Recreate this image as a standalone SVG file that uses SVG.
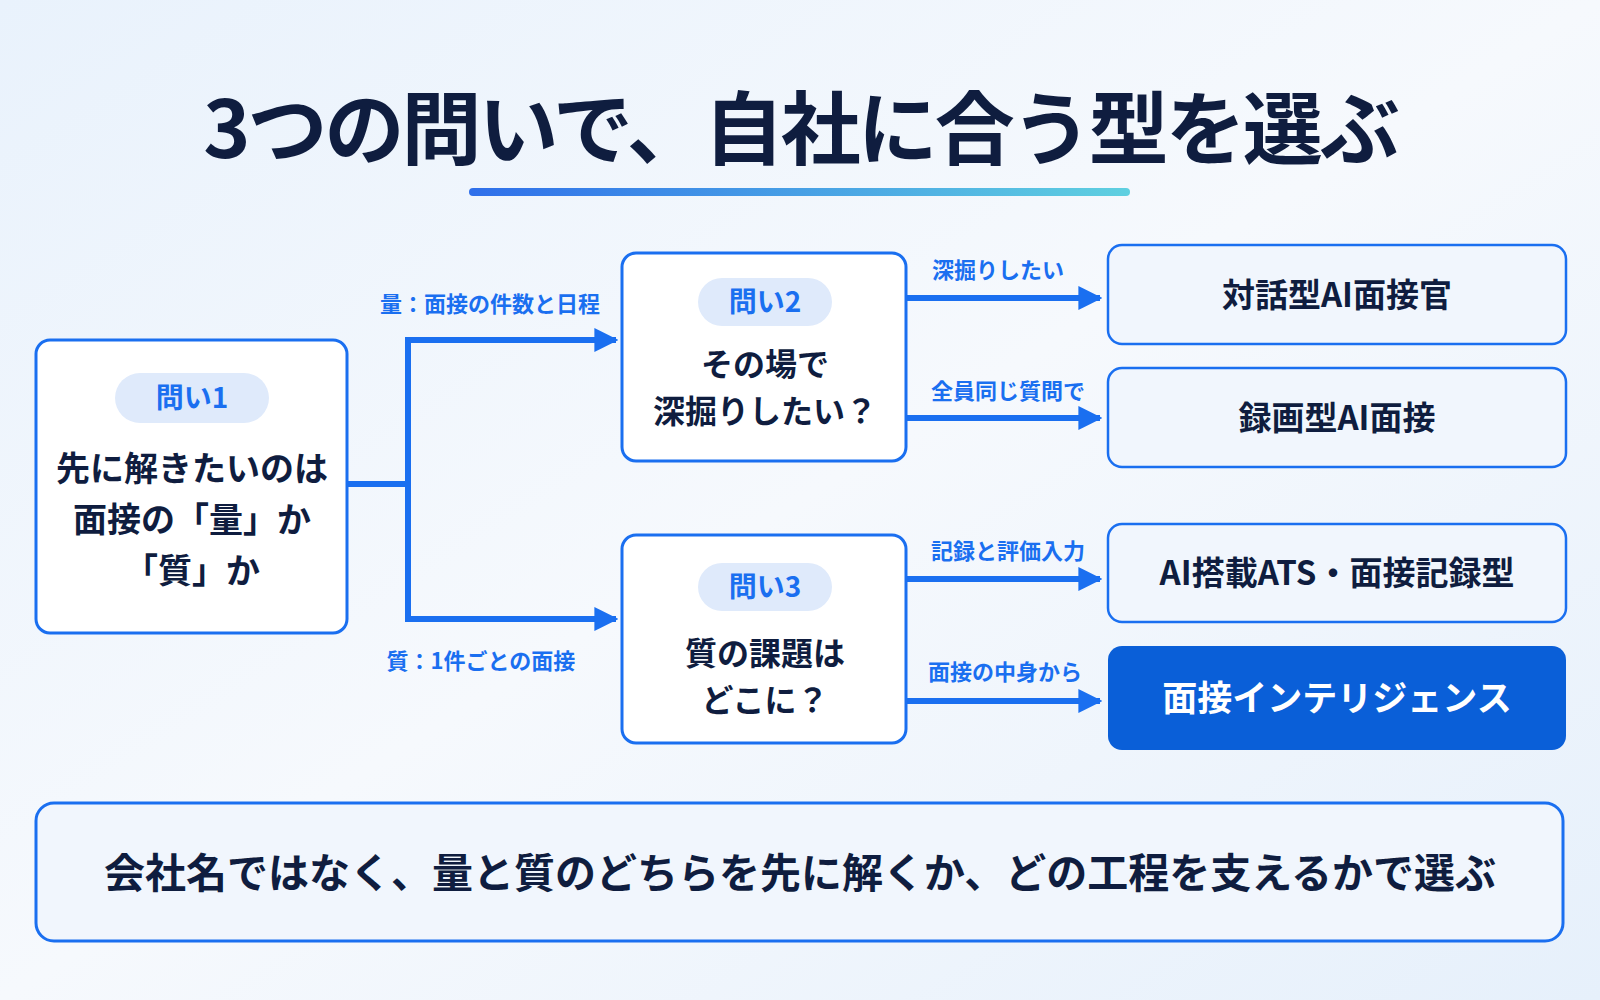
<svg xmlns="http://www.w3.org/2000/svg" width="1600" height="1000" viewBox="0 0 1600 1000">
<defs>
<linearGradient id="bg" x1="0" y1="0" x2="1" y2="1"><stop offset="0" stop-color="#e9f2fc"/><stop offset="0.5" stop-color="#f6f9fd"/><stop offset="1" stop-color="#e6f0fb"/></linearGradient>
<linearGradient id="ul" x1="0" x2="1"><stop offset="0" stop-color="#2f6fea"/><stop offset="1" stop-color="#5fd0e0"/></linearGradient>
<marker id="ah" viewBox="0 0 10 10" refX="9" refY="5" markerWidth="4" markerHeight="4" orient="auto"><path d="M0,0 L10,5 L0,10 z" fill="#1a6ff0"/></marker>
</defs>
<style>
.t{font-family:"Noto Sans CJK JP","Noto Sans",sans-serif;font-weight:700;fill:#0f1d3f;text-anchor:middle}
.box{fill:#fff;stroke:#1a6ff0;stroke-width:3}
.rbox{fill:#f1f6fd;stroke:#1a6ff0;stroke-width:2.5}
.pill{fill:#dfeafb}
.pt{font-family:"Noto Sans CJK JP",sans-serif;font-weight:700;fill:#1a6ff0;text-anchor:middle;font-size:28px}
.lbl{font-family:"Noto Sans CJK JP",sans-serif;font-weight:700;fill:#1a6ff0;text-anchor:middle;font-size:22px}
.ln{stroke:#1a6ff0;stroke-width:6;fill:none}
</style>
<rect width="1600" height="1000" fill="url(#bg)"/>
<text class="t" x="800" y="158" font-size="80" font-weight="900" letter-spacing="-3">3つの問いで、自社に合う型を選ぶ</text>
<rect x="469" y="188" width="661" height="8" rx="4" fill="url(#ul)"/>
<g id="connectors">
<path class="ln" d="M347,484 H408 V340 H616" marker-end="url(#ah)"/>
<path class="ln" d="M408,484 V619 H616" marker-end="url(#ah)"/>
<path class="ln" d="M906,298 H1100" marker-end="url(#ah)"/>
<path class="ln" d="M906,418 H1100" marker-end="url(#ah)"/>
<path class="ln" d="M906,579 H1100" marker-end="url(#ah)"/>
<path class="ln" d="M906,701 H1100" marker-end="url(#ah)"/>
<text class="lbl" x="490" y="312">量：面接の件数と日程</text>
<text class="lbl" x="481" y="669">質：1件ごとの面接</text>
<text class="lbl" x="998" y="278">深掘りしたい</text>
<text class="lbl" x="1008" y="399">全員同じ質問で</text>
<text class="lbl" x="1008" y="559">記録と評価入力</text>
<text class="lbl" x="1005" y="680">面接の中身から</text>
</g>
<g id="q1">
<rect class="box" x="36" y="340" width="311" height="293" rx="14"/>
<rect class="pill" x="115" y="373" width="154" height="50" rx="25"/>
<text class="pt" x="192" y="408">問い1</text>
<text class="t" x="192" y="481" font-size="34">先に解きたいのは</text>
<text class="t" x="192" y="532" font-size="34">面接の「量」か</text>
<text class="t" x="192" y="583" font-size="34">「質」か</text>
</g>
<g id="q2">
<rect class="box" x="622" y="253" width="284" height="208" rx="14"/>
<rect class="pill" x="698" y="278" width="134" height="48" rx="24"/>
<text class="pt" x="765" y="312">問い2</text>
<text class="t" x="765" y="376" font-size="32">その場で</text>
<text class="t" x="765" y="423" font-size="32">深掘りしたい？</text>
</g>
<g id="q3">
<rect class="box" x="622" y="535" width="284" height="208" rx="14"/>
<rect class="pill" x="698" y="563" width="134" height="48" rx="24"/>
<text class="pt" x="765" y="597">問い3</text>
<text class="t" x="765" y="665" font-size="32">質の課題は</text>
<text class="t" x="765" y="712" font-size="32">どこに？</text>
</g>
<g id="a1"><rect class="rbox" x="1108" y="245" width="458" height="99" rx="14"/><text class="t" x="1337" y="307" font-size="33">対話型AI面接官</text></g>
<g id="a2"><rect class="rbox" x="1108" y="368" width="458" height="99" rx="14"/><text class="t" x="1337" y="430" font-size="33">録画型AI面接</text></g>
<g id="a3"><rect class="rbox" x="1108" y="524" width="458" height="98" rx="14"/><text class="t" x="1337" y="585" font-size="33">AI搭載ATS・面接記録型</text></g>
<g id="a4"><rect x="1108" y="646" width="458" height="104" rx="14" fill="#0a5fd8"/><text class="t" x="1337" y="711" font-size="35" style="fill:#fff">面接インテリジェンス</text></g>
<g id="summary"><rect class="rbox" x="36" y="803" width="1527" height="138" rx="18" style="stroke-width:3"/><text class="t" x="800" y="888" font-size="41">会社名ではなく、量と質のどちらを先に解くか、どの工程を支えるかで選ぶ</text></g>
</svg>
